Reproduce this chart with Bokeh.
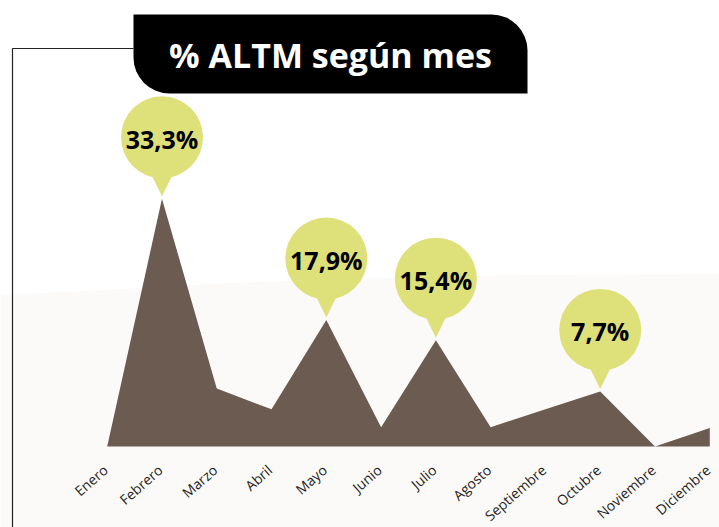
from bokeh.plotting import figure
from bokeh.models import Range1d, BoxAnnotation, ColumnDataSource, Label
from bokeh.core.properties import value
from bokeh.embed import file_html
from bokeh.resources import INLINE

# ---- data ----
months = ["Enero", "Febrero", "Marzo", "Abril", "Mayo", "Junio", "Julio",
          "Agosto", "Septiembre", "Octubre", "Noviembre", "Diciembre"]
pct = [0.0, 33.3, 7.8, 5.0, 17.0, 2.6, 14.3, 2.6, 5.0, 7.4, 0.0, 2.5]
callout_months = ["Febrero", "Mayo", "Julio", "Octubre"]
callout_labels = ["33,3%", "17,9%", "15,4%", "7,7%"]
title = "% ALTM según mes"

# ---- layout ----
W, H = 719, 527
PXX = 54.78          # px per month
PXY = 7.4384         # px per percent
XS = -106.7 / PXX
XE = XS + W / PXX
YE = 446 / PXY
YS = YE - H / PXY

def fx(px):
    return XS + px / PXX

def fy(py):
    return YE - py / PXY

idx = list(range(len(months)))

p = figure(width=W, height=H, output_backend="svg", toolbar_location=None,
           x_range=Range1d(XS, XE), y_range=Range1d(YS, YE),
           min_border=0, background_fill_color="white",
           border_fill_color="white", outline_line_color=None)
p.axis.visible = False
p.grid.visible = False

# subtle beige background region
p.patch(x=[fx(0), fx(240), fx(480), fx(719), fx(719), fx(0)],
        y=[fy(295), fy(282), fy(275), fy(273), fy(540), fy(540)],
        fill_color="#fbfaf8", line_color=None)

# area
p.varea(x=idx, y1=[0] * len(idx), y2=pct, fill_color="#6b5b50")

# callouts
ci = [months.index(m) for m in callout_months]
cv = [pct[i] for i in ci]
R_OFF = 61.5 / PXY
src = ColumnDataSource(dict(x=ci, y=[v + R_OFF for v in cv], lab=callout_labels))
hw = 12 / PXX
xs = [[i - hw, i + hw, i] for i in ci]
ys = [[v + 27 / PXY, v + 27 / PXY, v + 2.5 / PXY] for v in cv]
p.patches(xs=xs, ys=ys, fill_color="#dee07a", line_color=None)
p.scatter(x="x", y="y", source=src, size=82, marker="circle",
          fill_color="#dee07a", line_color=None)
p.text(x="x", y="y", text="lab", source=src, text_align="center",
       text_baseline="alphabetic", y_offset=1.5,
       text_font=value("Open Sans"), text_font_style="bold",
       text_font_size="25px", text_color="#000000")

# month labels
p.text(x=idx, y=[0] * len(idx), text=months, angle=0.72,
       text_align="right", text_baseline="top", x_offset=-8, y_offset=14,
       text_font=value("Open Sans"), text_font_size="14px",
       text_color="#1e1e1e")

# bracket line
p.line(x=[fx(12), fx(12), fx(133)], y=[fy(540), fy(48), fy(48)],
       line_color="#222222", line_width=1.2)

# title box
box = BoxAnnotation(left=fx(133), right=fx(527), top=fy(14), bottom=fy(93),
                    fill_color="black", fill_alpha=1.0, line_color=None,
                    border_radius=(0, 36, 0, 36))
p.add_layout(box)
p.add_layout(Label(x=fx(330), y=fy(54), text=title, text_align="center",
                   text_baseline="alphabetic", text_font="Open Sans",
                   text_font_style="bold", text_font_size="34px",
                   text_color="white"))

open("out.html", "w").write(file_html(p, INLINE))
